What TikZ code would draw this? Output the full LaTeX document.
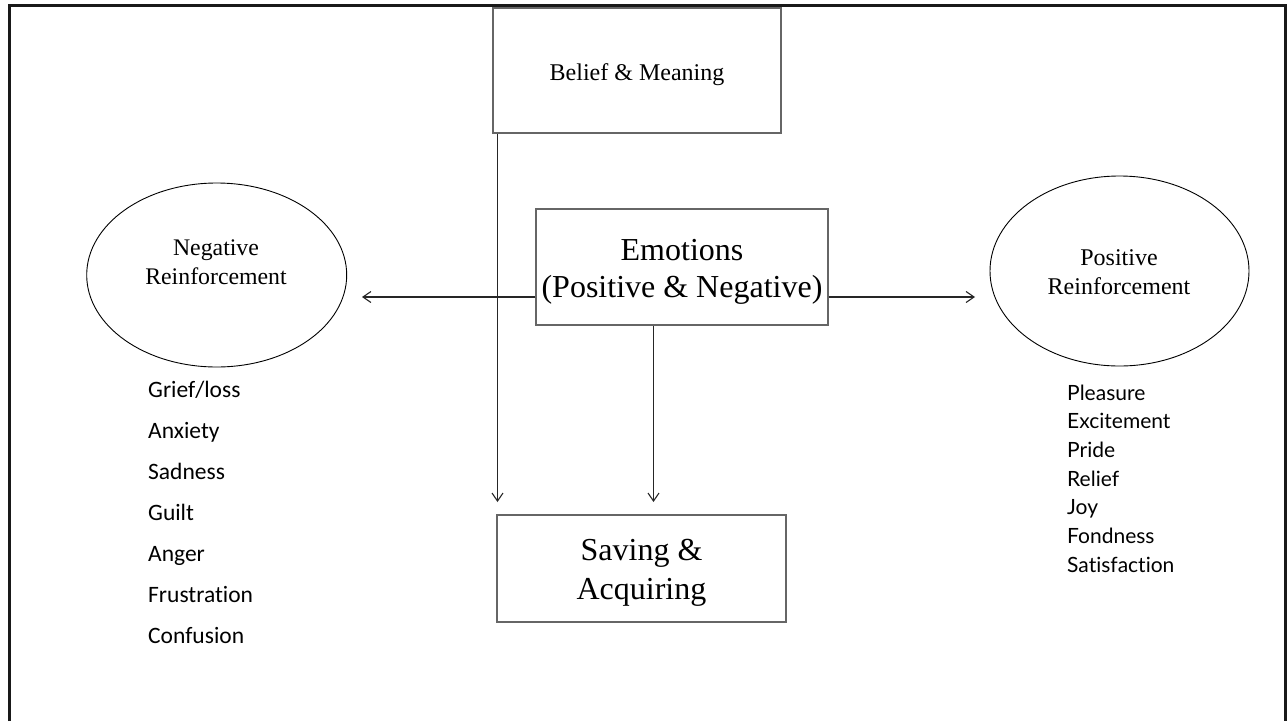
\documentclass[tikz,border=0pt]{standalone}
\usepackage{fontspec}
\setmainfont{Liberation Serif}
\newfontfamily\calfont[Ligatures=NoCommon]{Carlito}
\newfontfamily\gillfont[Ligatures=NoCommon]{Lato}
\usetikzlibrary{arrows.meta,shapes.geometric}
\begin{document}
\begin{tikzpicture}[x=1pt,y=-1pt,
  box/.style={draw=black!60, line width=1.2pt, inner sep=0pt, rectangle},
  oval/.style={draw=black, line width=0.9pt, ellipse, inner sep=0pt},
  arr/.style={draw=black!85, line width=1.1pt, -{Straight Barb[length=8pt,width=11pt]}},
  lbl/.style={align=center, inner sep=0pt, anchor=base},
  negitem/.style={anchor=base west, inner sep=0pt, font=\calfont\fontsize{23.5}{28}\selectfont},
  positem/.style={anchor=base west, inner sep=0pt, font=\gillfont\fontsize{21}{25}\selectfont}]
\useasboundingbox (0,0) rectangle (1288,721);
\fill[white] (0,0) rectangle (1288,721);
\draw[line width=3pt, black!90] (9,721) -- (9,5) -- (1285,5) -- (1285,721);

% boxes
\node[box, minimum width=288pt, minimum height=125pt] (bel) at (637,70.5) {};
\node[lbl, font=\fontsize{24}{28}\selectfont] (belT) at (637,80) {Belief \& Meaning};

\node[box, minimum width=292pt, minimum height=116pt] (emo) at (682,267) {};
\node[lbl, font=\fontsize{32}{37}\selectfont] (emoT) at (682,297) {Emotions\\(Positive \& Negative)};

\node[box, minimum width=289pt, minimum height=107pt] (sav) at (641.5,568.5) {};
\node[lbl, font=\fontsize{32}{39}\selectfont] (savT) at (641.5,599) {Saving \&\\Acquiring};

% ellipses
\node[oval, minimum width=260pt, minimum height=184pt] (negE) at (216.7,275) {};
\node[lbl, font=\fontsize{23.8}{28.5}\selectfont] (negT) at (216,284) {Negative\\Reinforcement};

\node[oval, minimum width=259pt, minimum height=190pt] (posE) at (1119.5,271) {};
\node[lbl, font=\fontsize{24}{29}\selectfont] (posT) at (1119,294) {Positive\\Reinforcement};

% connector ends
\coordinate (vTop) at (497.5,133);
\coordinate (vEnd) at (497.5,502);
\coordinate (dEnd) at (653.5,502);
\coordinate (lEnd) at (362,297);
\coordinate (rEnd) at (975,297);

\draw[arr] (bel.south -| vTop) -- (vEnd);
\draw[arr] (emo.south -| dEnd) -- (dEnd);
\draw[arr] (emo.west |- lEnd) -- (lEnd);
\draw[arr] (emo.east |- rEnd) -- (rEnd);

% lists
\foreach \t [count=\i] in {Grief/loss,Anxiety,Sadness,Guilt,Anger,Frustration,Confusion}
  \node[negitem] (n\i) at (148,{397+41.1*(\i-1)}) {\t};
\foreach \t [count=\i] in {Pleasure,Excitement,Pride,Relief,Joy,Fondness,Satisfaction}
  \node[positem] (p\i) at (1067,{400+28.7*(\i-1)}) {\t};
\end{tikzpicture}
\end{document}
